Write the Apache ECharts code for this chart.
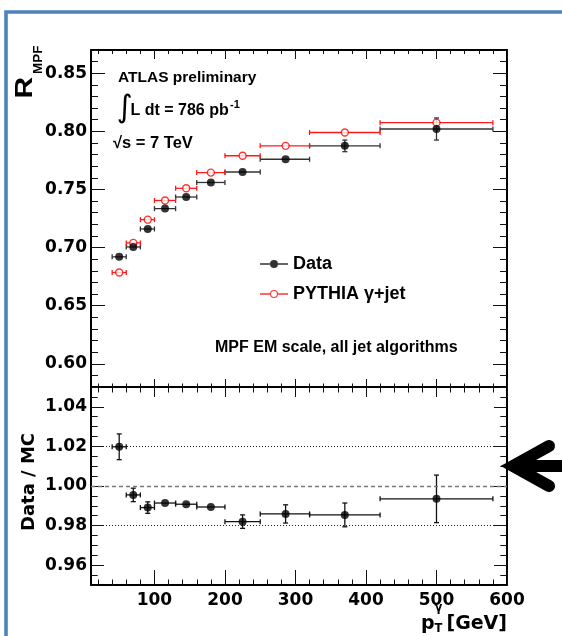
<!DOCTYPE html>
<html><head><meta charset="utf-8">
<script src="https://cdn.jsdelivr.net/npm/echarts@6/dist/echarts.min.js"></script>
<style>html,body{margin:0;padding:0;background:#fff;}#c{width:562px;height:636px;}</style>
</head><body><div id="c"></div>
<script>
// ---- data ----
const ptX    = [50, 70, 90.5, 115, 145, 180, 225, 286, 370, 500];
const binLo  = [40, 60, 80, 100, 130, 160, 200, 250, 320, 420];
const binHi  = [60, 80, 100, 130, 160, 200, 250, 320, 420, 580];
const dataR    = [0.692, 0.7005, 0.716, 0.7335, 0.7435, 0.756, 0.765, 0.776, 0.7875, 0.802];
const dataRErr = [0.0012, 0.001, 0.001, 0.001, 0.001, 0.0012, 0.0015, 0.002, 0.005, 0.0095];
const mcR      = [0.6785, 0.704, 0.724, 0.7405, 0.751, 0.7645, 0.779, 0.7875, 0.799, 0.8075];
const mcRErr   = [0.001, 0.001, 0.001, 0.001, 0.001, 0.001, 0.001, 0.001, 0.001, 0.001];
const ratio    = [1.0198, 0.9955, 0.9891, 0.9914, 0.9908, 0.9894, 0.9820, 0.9859, 0.9854, 0.9935];
const ratioErr = [0.0065, 0.0034, 0.0029, 0.0015, 0.0015, 0.0015, 0.0034, 0.0046, 0.006, 0.012];
const xMajorTicks = [100, 200, 300, 400, 500, 600];
const topYTicks = [0.60, 0.65, 0.70, 0.75, 0.80, 0.85];
const botYTicks = [0.96, 0.98, 1.00, 1.02, 1.04];
const seriesNames = ['Data', 'PYTHIA \u03b3+jet'];

const xMinorTicks = []; for (let v = 20; v < 600; v += 20) xMinorTicks.push(v);
const topYMinor = []; for (let i = 58; i <= 87; i++) topYMinor.push(i / 100);
const botYMinor = []; for (let i = 190; i <= 210; i++) botYMinor.push(i / 200);

const LAB_FONT = { fontFamily: 'DejaVu Sans', fontWeight: 'bold', fontSize: 17, color: '#000' };
const TXT = 'Liberation Sans, Arial, Helvetica, sans-serif';

function xAx(grid, pos, ticks, len, line, labels) {
  return {
    type: 'value', gridIndex: grid, position: pos, min: 10, max: 600,
    axisLine: { show: line, onZero: false, lineStyle: { color: '#000', width: 2 } },
    axisTick: { show: true, inside: true, length: len, customValues: ticks, lineStyle: { color: '#111', width: 1 } },
    axisLabel: labels ? Object.assign({ show: true, customValues: xMajorTicks, margin: 7, formatter: v => String(v) }, LAB_FONT) : { show: false },
    splitLine: { show: false }
  };
}
function yAx(grid, pos, ticks, len, line, labelVals, mn, mx) {
  return {
    type: 'value', gridIndex: grid, position: pos, min: mn, max: mx,
    axisLine: { show: line, onZero: false, lineStyle: { color: '#000', width: 2 } },
    axisTick: { show: true, inside: true, length: len, customValues: ticks, lineStyle: { color: '#111', width: 1 } },
    axisLabel: labelVals ? Object.assign({ show: true, customValues: labelVals, margin: 4, formatter: v => v.toFixed(2) }, LAB_FONT) : { show: false },
    splitLine: { show: false }
  };
}

function makeErr(color, lw, cap, minV) {
  return function (params, api) {
    const x = api.value(0), y = api.value(1), lo = api.value(2), hi = api.value(3), e = api.value(4);
    const c = api.coord([x, y]), l = api.coord([lo, y]), r = api.coord([hi, y]);
    const t = api.coord([x, y + e]), b = api.coord([x, y - e]);
    const st = () => ({ stroke: color, lineWidth: lw, fill: null });
    const ch = [
      { type: 'line', shape: { x1: l[0], y1: c[1], x2: r[0], y2: c[1] }, style: st() },
      { type: 'line', shape: { x1: l[0], y1: c[1] - cap, x2: l[0], y2: c[1] + cap }, style: st() },
      { type: 'line', shape: { x1: r[0], y1: c[1] - cap, x2: r[0], y2: c[1] + cap }, style: st() }
    ];
    if (b[1] - t[1] > minV) {
      ch.push({ type: 'line', shape: { x1: c[0], y1: t[1], x2: c[0], y2: b[1] }, style: st() });
      ch.push({ type: 'line', shape: { x1: c[0] - cap, y1: t[1], x2: c[0] + cap, y2: t[1] }, style: st() });
      ch.push({ type: 'line', shape: { x1: c[0] - cap, y1: b[1], x2: c[0] + cap, y2: b[1] }, style: st() });
    }
    return { type: 'group', children: ch };
  };
}

const iconData = 'path://M0,4.3H10V5.7H0Z M18,4.3H28V5.7H18Z M18,5A4,4 0 1 1 10,5A4,4 0 1 1 18,5Z';
const iconMC = 'path://M0,4.3H10V5.7H0Z M18,4.3H28V5.7H18Z M18,5A4,4 0 1 1 10,5A4,4 0 1 1 18,5Z M16.9,5A2.9,2.9 0 1 0 11.1,5A2.9,2.9 0 1 0 16.9,5Z';

function txt(text, x, y, size, opts) {
  opts = opts || {};
  return {
    type: 'text', x: x, y: y, rotation: opts.rot || 0, scaleX: opts.sx || 1, z: 50,
    style: {
      text: text, fill: '#000', fontSize: size, fontWeight: opts.weight || 'bold',
      fontFamily: opts.family || TXT, align: opts.align || 'left', verticalAlign: 'middle'
    }
  };
}

const option = {
  animation: false,
  backgroundColor: '#fff',
  grid: [
    { left: 91, top: 50, width: 416, height: 337 },
    { left: 91, top: 387, width: 416, height: 198 }
  ],
  xAxis: [
    xAx(0, 'bottom', xMajorTicks, 8, true, false),
    xAx(0, 'bottom', xMinorTicks, 3.5, false, false),
    xAx(0, 'top', xMajorTicks, 9, true, false),
    xAx(0, 'top', xMinorTicks, 4, false, false),
    xAx(1, 'bottom', xMajorTicks, 15, true, true),
    xAx(1, 'bottom', xMinorTicks, 5.5, false, false),
    xAx(1, 'top', xMajorTicks, 10, true, false),
    xAx(1, 'top', xMinorTicks, 5.5, false, false)
  ],
  yAxis: [
    yAx(0, 'left', topYTicks, 14, true, topYTicks, 0.58, 0.87),
    yAx(0, 'left', topYMinor, 7, false, null, 0.58, 0.87),
    yAx(0, 'right', topYTicks, 14, true, null, 0.58, 0.87),
    yAx(0, 'right', topYMinor, 7, false, null, 0.58, 0.87),
    yAx(1, 'left', botYTicks, 13, true, botYTicks, 0.95, 1.05),
    yAx(1, 'left', botYMinor, 6.7, false, null, 0.95, 1.05),
    yAx(1, 'right', botYTicks, 13, true, null, 0.95, 1.05),
    yAx(1, 'right', botYMinor, 6.7, false, null, 0.95, 1.05)
  ],
  legend: {
    orient: 'vertical', left: 260, top: 254, padding: 0,
    itemWidth: 28, itemHeight: 8, itemGap: 10, selectedMode: false,
    textStyle: { fontFamily: TXT, fontWeight: 'bold', fontSize: 18, color: '#000', lineHeight: 20 },
    data: [
      { name: seriesNames[0], icon: iconData, itemStyle: { color: '#000', borderWidth: 0 } },
      { name: seriesNames[1], icon: iconMC, itemStyle: { color: '#f00', borderWidth: 0 } }
    ]
  },
  series: [
    {
      type: 'custom', name: 'dataErr', xAxisIndex: 0, yAxisIndex: 0, z: 2,
      renderItem: makeErr('#333', 1.3, 2.5, 9),
      encode: { x: 0, y: 1 },
      data: ptX.map((x, i) => [x, dataR[i], binLo[i], binHi[i], dataRErr[i]])
    },
    {
      type: 'custom', name: 'mcErr', xAxisIndex: 0, yAxisIndex: 0, z: 2,
      renderItem: makeErr('#ff1a1a', 1.3, 2.5, 9),
      encode: { x: 0, y: 1 },
      data: ptX.map((x, i) => [x, mcR[i], binLo[i], binHi[i], mcRErr[i]])
    },
    {
      type: 'scatter', name: seriesNames[1], xAxisIndex: 0, yAxisIndex: 0, z: 4,
      symbol: 'circle', symbolSize: 7,
      itemStyle: { color: '#fff', borderColor: '#f00', borderWidth: 1.4 },
      data: ptX.map((x, i) => [x, mcR[i]])
    },
    {
      type: 'scatter', name: seriesNames[0], xAxisIndex: 0, yAxisIndex: 0, z: 5,
      symbol: 'circle', symbolSize: 8,
      itemStyle: { color: '#000' },
      data: ptX.map((x, i) => [x, dataR[i]])
    },
    {
      type: 'custom', name: 'ratioErr', xAxisIndex: 4, yAxisIndex: 4, z: 2,
      renderItem: makeErr('#111', 1.3, 2.5, 9),
      encode: { x: 0, y: 1 },
      data: ptX.map((x, i) => [x, ratio[i], binLo[i], binHi[i], ratioErr[i]])
    },
    {
      type: 'scatter', name: 'Data / MC', xAxisIndex: 4, yAxisIndex: 4, z: 5,
      symbol: 'circle', symbolSize: 8,
      itemStyle: { color: '#000' },
      data: ptX.map((x, i) => [x, ratio[i]]),
      markLine: {
        silent: true, symbol: ['none', 'none'], label: { show: false }, animation: false,
        data: [
          { yAxis: 1.02, lineStyle: { type: [1, 2], color: '#222', width: 1 } },
          { yAxis: 0.98, lineStyle: { type: [1, 2], color: '#222', width: 1 } },
          { yAxis: 1.00, lineStyle: { type: [4, 3], color: '#777', width: 1.4 } }
        ]
      }
    }
  ],
  graphic: [
    { type: 'rect', z: 1, shape: { x: 6, y: 12, width: 620, height: 700 },
      style: { fill: null, stroke: '#4F81BD', lineWidth: 3.6 } },
    txt('ATLAS preliminary', 118, 77.5, 15.5),
    txt('\u222b', 116.5, 109, 31, { family: 'DejaVu Sans', weight: 'normal' }),
    txt('L dt = 786 pb', 130.5, 110.8, 16),
    txt('-1', 230, 105, 11),
    txt('\u221as = 7 TeV', 113, 143.3, 16.5),
    txt('MPF EM scale, all jet algorithms', 215, 347.5, 16),
    txt('R', 25.5, 98.5, 23, { rot: Math.PI / 2, sx: 1.3 }),
    txt('MPF', 38, 74, 13.5, { rot: Math.PI / 2 }),
    txt('Data / MC', 29.5, 482, 18, { rot: Math.PI / 2, align: 'center', family: 'DejaVu Sans' }),
    txt('[GeV]', 507, 624, 19, { align: 'right', family: 'DejaVu Sans' }),
    txt('p', 421, 624, 19, { family: 'DejaVu Sans' }),
    txt('\u03b3', 434.5, 608, 11.5, { family: 'DejaVu Sans' }),
    txt('T', 434.5, 629, 11.5, { family: 'DejaVu Sans' }),
    { type: 'polyline', z: 60, shape: { points: [[549, 446], [513, 466], [549, 486]] },
      style: { stroke: '#000', lineWidth: 12, fill: null, lineCap: 'round', lineJoin: 'miter', miterLimit: 10 } },
    { type: 'line', z: 60, shape: { x1: 511, y1: 466, x2: 570, y2: 466 },
      style: { stroke: '#000', lineWidth: 12, lineCap: 'butt' } }
  ]
};

const chart = echarts.init(document.getElementById('c'), null, { renderer: 'canvas' });
chart.setOption(option);
</script>
</body></html>
